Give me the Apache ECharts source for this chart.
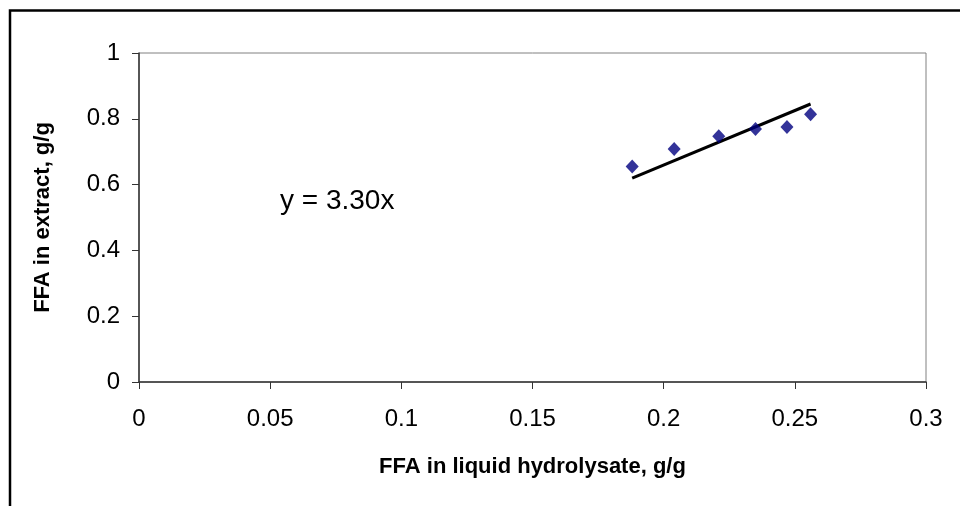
<!DOCTYPE html>
<html><head><meta charset="utf-8">
<script src="https://cdn.jsdelivr.net/npm/echarts@6/dist/echarts.min.js"></script>
<style>html,body{margin:0;padding:0;background:#fff}#c{width:960px;height:506px}</style>
</head><body><div id="c"></div>
<script>
const xValues = [0.188, 0.204, 0.221, 0.235, 0.247, 0.256];
const yValues = [0.655, 0.708, 0.747, 0.769, 0.775, 0.814];
const trendX = [0.188, 0.256];
const trendY = [0.620, 0.845];
const equationText = 'y = 3.30x';
const xTitle = 'FFA in liquid hydrolysate, g/g';
const yTitle = 'FFA in extract, g/g';

const chart = echarts.init(document.getElementById('c'), null, {renderer: 'canvas'});
const font = '"Liberation Sans", Arial, sans-serif';
chart.setOption({
  animation: false,
  backgroundColor: '#fff',
  grid: {left: 139, right: 34, top: 53, bottom: 124, show: true, borderColor: '#808080', borderWidth: 1},
  xAxis: {
    type: 'value', min: 0, max: 0.3, interval: 0.05,
    name: xTitle, nameLocation: 'middle', nameGap: 74,
    nameTextStyle: {fontFamily: font, fontWeight: 'bold', fontSize: 22, color: '#000'},
    axisLine: {lineStyle: {color: '#333', width: 1.5}},
    axisTick: {show: true, inside: false, length: 7, lineStyle: {color: '#333'}},
    axisLabel: {fontFamily: font, fontSize: 24, color: '#000', margin: 25},
    splitLine: {show: false}
  },
  yAxis: {
    type: 'value', min: 0, max: 1, interval: 0.2,
    name: yTitle, nameLocation: 'middle', nameGap: 85, nameRotate: 90,
    nameTextStyle: {fontFamily: font, fontWeight: 'bold', fontSize: 22, color: '#000'},
    axisLine: {lineStyle: {color: '#333', width: 1.5}},
    axisTick: {show: true, inside: false, length: 7, lineStyle: {color: '#333'}},
    axisLabel: {fontFamily: font, fontSize: 24, color: '#000', margin: 19},
    splitLine: {show: false}
  },
  series: [
    {
      type: 'line', data: trendX.map((x, i) => [x, trendY[i]]),
      showSymbol: false, symbol: 'none',
      lineStyle: {color: '#000', width: 3}, z: 2
    },
    {
      type: 'scatter', data: xValues.map((x, i) => [x, yValues[i]]),
      symbol: 'diamond', symbolSize: [13, 14],
      itemStyle: {color: '#000080'}, z: 3
    }
  ],
  graphic: [
    {type: 'rect', shape: {x: 10, y: 10.5, width: 1000, height: 600},
     style: {fill: 'none', stroke: '#000', lineWidth: 2.5}, silent: true},
    {type: 'text', left: 280, top: 187,
     style: {text: equationText, font: '28px "Liberation Sans", Arial, sans-serif', fill: '#000'}}
  ]
});
</script></body></html>
